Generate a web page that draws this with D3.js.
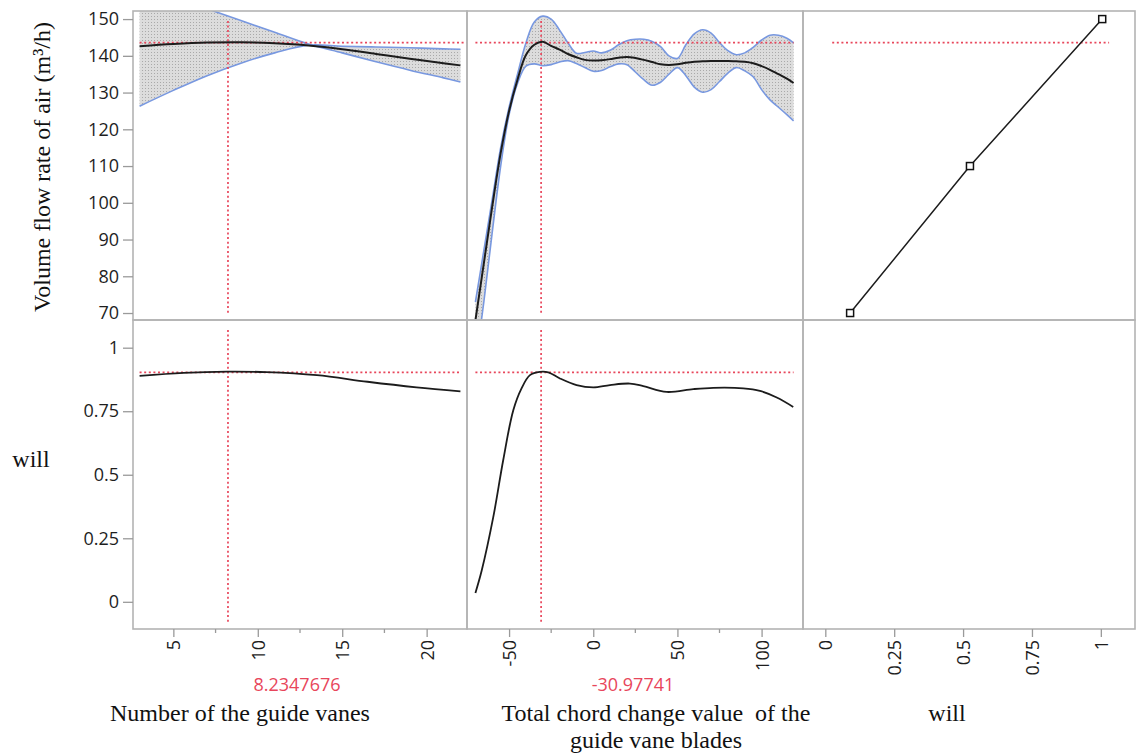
<!DOCTYPE html>
<html>
<head>
<meta charset="utf-8">
<script src="https://cdn.jsdelivr.net/npm/d3@7"></script>
<style>
  html, body { margin: 0; padding: 0; background: #fff; }
  svg { display: block; }
  .tick text { font-family: "Open Sans", "Noto Sans", sans-serif; font-size: 18px; fill: #1e1e1e; }
  .serif { font-family: "Liberation Serif", "Times New Roman", serif; font-size: 24px; fill: #111; white-space: pre; }
  .redlab { font-family: "Open Sans", "Noto Sans", sans-serif; font-size: 18px; fill: #e8465b; }
</style>
</head>
<body>
<svg id="chart" width="1141" height="756"></svg>
<script>
// ---------------- DATA ----------------
// Column 1: Number of the guide vanes
const guideX        = [3, 5, 7, 9, 11, 13, 15, 17, 19, 21, 22];
const guideFlowMean = [142.6, 143.2, 143.6, 143.7, 143.4, 142.8, 141.8, 140.5, 139.2, 138.0, 137.4];
const guideFlowUp   = [159.1, 156.0, 152.8, 149.6, 146.4, 143.2, 140.8, 138.4, 136.1, 134.0, 132.9];
const guideFlowLo   = [126.3, 130.6, 134.6, 138.0, 140.8, 142.9, 142.6, 142.4, 142.2, 141.9, 141.8];
const guideWillX    = [3, 5.6, 8.2, 10.5, 13.5, 16.5, 19.4, 22];
const guideWill     = [0.889, 0.901, 0.906, 0.904, 0.892, 0.866, 0.844, 0.828];

// Column 2: Total chord change value of the guide vane blades
const chordX = [-70,-65,-60,-55,-50,-45,-40,-35,-30,-25,-20,-15,-10,-5,0,5,10,15,20,25,30,35,40,45,50,55,60,65,70,75,80,85,90,95,100,105,110,115,119];
const chordFlowMean = [68,83.5,99,113.5,125,133.5,140.2,143.0,143.8,142.7,141.7,140.5,139.6,138.9,138.7,138.8,139.1,139.5,139.7,139.4,138.9,138.3,137.7,137.5,137.7,138.1,138.4,138.5,138.6,138.6,138.6,138.5,138.4,138.0,137.2,136.2,135.0,133.8,132.6];
const chordFlowUp   = [73,87,101,115,126,135,143.5,149.2,150.8,150.0,147.0,143.5,140.7,140.9,141.3,140.8,141.5,143.0,144.1,144.5,144.5,143.9,142.5,140.0,139.3,143.0,146.0,147.1,146.2,143.6,141.4,140.3,140.8,142.3,144.3,145.6,145.6,144.8,143.5];
const chordFlowLo   = [56,73,92,110,124,132.5,137.2,137.8,137.3,137.6,138.3,138.7,137.9,136.8,135.8,136.0,137.0,137.8,137.6,135.6,133.5,132.0,132.8,135.0,136.8,134.6,131.5,130.1,130.8,133.0,135.3,136.8,135.9,134.3,130.8,128.0,126.0,124.0,122.3];
const chordWillX = [-70,-66.3,-59.4,-53.5,-47.5,-42.6,-37.6,-31.7,-26.7,-19.8,-9.9,0,9.9,21.8,29.7,43.6,59.4,71.3,89.1,99,109,118.8];
const chordWill  = [0.035,0.122,0.333,0.557,0.754,0.840,0.892,0.905,0.903,0.879,0.853,0.844,0.853,0.859,0.849,0.826,0.837,0.842,0.840,0.830,0.804,0.767];

// Column 3: desirability ("will") function for the flow rate
const desirX    = [0.09, 0.525, 1.005];
const desirFlow = [70, 110, 150];

// Current settings (red cross-hairs)
const curGuide = 8.2347676;
const curChord = -30.97741;
const curFlow  = 143.6;
const curWill  = 0.903;
const curGuideLabel = "8.2347676";
const curChordLabel = "-30.97741";

// Axis ticks
const flowTicks  = [70, 80, 90, 100, 110, 120, 130, 140, 150];
const willTicks  = [0, 0.25, 0.5, 0.75, 1];
const willTickLabels = ["0", "0.25", "0.5", "0.75", "1"];
const guideTicks = [5, 10, 15, 20];
const guideMinor = [7.5, 12.5, 17.5];
const chordTicks = [-50, 0, 50, 100];
const chordMinor = [-25, 25, 75];
const desirTicks = [0, 0.25, 0.5, 0.75, 1];

// Titles
const yTitleTop = "Volume flow rate of air (m\u00B3/h)";
const yTitleBot = "will";
const xTitle1 = ["Number of the guide vanes"];
const xTitle2 = ["Total chord change value  of the", "guide vane blades"];
const xTitle3 = ["will"];

// ---------------- LAYOUT ----------------
const svg = d3.select("#chart");
const colEdges = [133, 467, 803, 1135];
const rowTop = [11, 320], rowBot = [320, 629];

const x1 = d3.scaleLinear().domain([2.61, 22.39]).range([colEdges[0], colEdges[1]]);
const x2 = d3.scaleLinear().domain([-75.0, 124.6]).range([colEdges[1], colEdges[2]]);
const x3 = d3.scaleLinear().domain([-0.081, 1.124]).range([colEdges[2], colEdges[3]]);
const yT = d3.scaleLinear().domain([68.1, 152.2]).range([rowTop[1], rowTop[0]]);
const yB = d3.scaleLinear().domain([-0.107, 1.109]).range([rowBot[1], rowBot[0]]);

const RED = "#e8465b", BLUE = "#7898e0", FRAME = "#b3b3b3";

// pattern for confidence band
const defs = svg.append("defs");
const pat = defs.append("pattern").attr("id", "dots").attr("patternUnits", "userSpaceOnUse")
  .attr("width", 3).attr("height", 3);
pat.append("rect").attr("width", 3).attr("height", 3).attr("fill", "#dcdcdc");
pat.append("rect").attr("x", 1).attr("y", 1).attr("width", 1).attr("height", 1).attr("fill", "#a9a9a9");

function clip(id, xs, ys) {
  defs.append("clipPath").attr("id", id).append("rect")
    .attr("x", xs.range()[0]).attr("y", ys.range()[1])
    .attr("width", xs.range()[1] - xs.range()[0]).attr("height", ys.range()[0] - ys.range()[1]);
}
clip("c11", x1, yT); clip("c12", x2, yT); clip("c13", x3, yT);
clip("c21", x1, yB); clip("c22", x2, yB);

const curve = d3.curveCatmullRom.alpha(0.5);

function band(gid, xs, ys, X, lo, up) {
  const data = X.map((d, i) => ({x: d, lo: lo[i], up: up[i]}));
  const g = svg.append("g").attr("clip-path", `url(#${gid})`);
  g.append("path").datum(data)
    .attr("d", d3.area().x(d => xs(d.x)).y0(d => ys(d.lo)).y1(d => ys(d.up)).curve(curve))
    .attr("fill", "url(#dots)");
  ["lo", "up"].forEach(k => {
    g.append("path").datum(data)
      .attr("d", d3.line().x(d => xs(d.x)).y(d => ys(d[k])).curve(curve))
      .attr("fill", "none").attr("stroke", BLUE).attr("stroke-width", 1.6);
  });
}
function meanLine(gid, xs, ys, X, Y, w) {
  const data = X.map((d, i) => ({x: d, y: Y[i]}));
  svg.append("g").attr("clip-path", `url(#${gid})`).append("path").datum(data)
    .attr("d", d3.line().x(d => xs(d.x)).y(d => ys(d.y)).curve(curve))
    .attr("fill", "none").attr("stroke", "#1c1c1c").attr("stroke-width", w || 2);
}
function redLine(x1v, y1v, x2v, y2v) {
  svg.append("line").attr("x1", x1v).attr("y1", y1v).attr("x2", x2v).attr("y2", y2v)
    .attr("stroke", RED).attr("stroke-width", 1.7).attr("stroke-dasharray", "2,2.6");
}

// ---- bands & curves ----
band("c11", x1, yT, guideX, guideFlowLo, guideFlowUp);
band("c12", x2, yT, chordX, chordFlowLo, chordFlowUp);

// red cross-hairs
redLine(x1(guideX[0]), yT(curFlow), x1.range()[1], yT(curFlow));
redLine(x2(chordX[0]), yT(curFlow), x2(chordX[chordX.length - 1]), yT(curFlow));
redLine(x3(0.025), yT(curFlow), x3(1.03), yT(curFlow));
redLine(x1(curGuide), yT(149.5), x1(curGuide), yT(70));
redLine(x2(curChord), yT(149.5), x2(curChord), yT(70));
redLine(x1(guideWillX[0]), yB(curWill), x1(guideWillX[guideWillX.length - 1]), yB(curWill));
redLine(x2(chordX[0]), yB(curWill), x2(chordX[chordX.length - 1]), yB(curWill));
redLine(x1(curGuide), yB(1.07), x1(curGuide), yB(-0.08));
redLine(x2(curChord), yB(1.07), x2(curChord), yB(-0.08));

meanLine("c11", x1, yT, guideX, guideFlowMean);
meanLine("c12", x2, yT, chordX, chordFlowMean);
meanLine("c21", x1, yB, guideWillX, guideWill, 1.8);
meanLine("c22", x2, yB, chordWillX, chordWill, 1.8);

// desirability function (column 3)
const dData = desirX.map((d, i) => ({x: d, y: desirFlow[i]}));
const g13 = svg.append("g").attr("clip-path", "url(#c13)");
g13.append("path").datum(dData)
  .attr("d", d3.line().x(d => x3(d.x)).y(d => yT(d.y)))
  .attr("fill", "none").attr("stroke", "#1c1c1c").attr("stroke-width", 1.5);
g13.selectAll("rect.m").data(dData).join("rect").attr("class", "m")
  .attr("x", d => x3(d.x) - 3.5).attr("y", d => yT(d.y) - 3.5)
  .attr("width", 7).attr("height", 7)
  .attr("fill", "#fff").attr("stroke", "#111").attr("stroke-width", 1.5);

// ---- frames ----
[[x1, yT], [x2, yT], [x3, yT], [x1, yB], [x2, yB], [x3, yB]].forEach(([xs, ys]) => {
  svg.append("rect").attr("x", xs.range()[0]).attr("y", ys.range()[1])
    .attr("width", xs.range()[1] - xs.range()[0]).attr("height", ys.range()[0] - ys.range()[1])
    .attr("fill", "none").attr("stroke", FRAME).attr("stroke-width", 1.6);
});

// ---- axes ----
function styleAxis(g) {
  g.select(".domain").remove();
  g.selectAll(".tick line").attr("stroke", "#9a9a9a").attr("stroke-width", 1.3);
}
svg.append("g").attr("transform", `translate(${colEdges[0]},0)`)
  .call(d3.axisLeft(yT).tickValues(flowTicks).tickSize(10).tickPadding(4)).call(styleAxis);
svg.append("g").attr("transform", `translate(${colEdges[0]},0)`)
  .call(d3.axisLeft(yB).tickValues(willTicks).tickFormat((d, i) => willTickLabels[i]).tickSize(10).tickPadding(4)).call(styleAxis);

function xAxis(xs, ticks, fmt, minor) {
  const g = svg.append("g").attr("transform", `translate(0,${rowBot[1]})`)
    .call(d3.axisBottom(xs).tickValues(ticks).tickFormat(fmt).tickSize(8).tickPadding(3)).call(styleAxis);
  g.selectAll(".tick text")
    .attr("y", 0).attr("x", -11).attr("dy", "0.36em")
    .attr("transform", "rotate(-90)").style("text-anchor", "end");
  if (minor) {
    g.selectAll("line.minor").data(minor).join("line").attr("class", "minor")
      .attr("x1", d => xs(d)).attr("x2", d => xs(d)).attr("y1", 0).attr("y2", 4)
      .attr("stroke", "#9a9a9a").attr("stroke-width", 1.3);
  }
}
xAxis(x1, guideTicks, d => String(d), guideMinor);
xAxis(x2, chordTicks, d => String(d), chordMinor);
xAxis(x3, desirTicks, d => String(d), null);

// ---- red current-value labels ----
svg.append("text").attr("class", "redlab").attr("x", (colEdges[0] + colEdges[1]) / 2 - 3).attr("y", 691)
  .attr("text-anchor", "middle").text(curGuideLabel);
svg.append("text").attr("class", "redlab").attr("x", (colEdges[1] + colEdges[2]) / 2 - 2).attr("y", 691)
  .attr("text-anchor", "middle").text(curChordLabel);

// ---- titles ----
function titleLines(lines, cx) {
  lines.forEach((t, i) => {
    svg.append("text").attr("class", "serif").attr("x", cx).attr("y", 721 + i * 27)
      .attr("text-anchor", "middle").text(t);
  });
}
titleLines(xTitle1, 240);
titleLines(xTitle2, 656);
titleLines(xTitle3, 947);

svg.append("text").attr("class", "serif").attr("transform", "translate(50,167) rotate(-90)")
  .attr("text-anchor", "middle").text(yTitleTop);
svg.append("text").attr("class", "serif").attr("x", 31).attr("y", 467)
  .attr("text-anchor", "middle").text(yTitleBot);
</script>
</body>
</html>
